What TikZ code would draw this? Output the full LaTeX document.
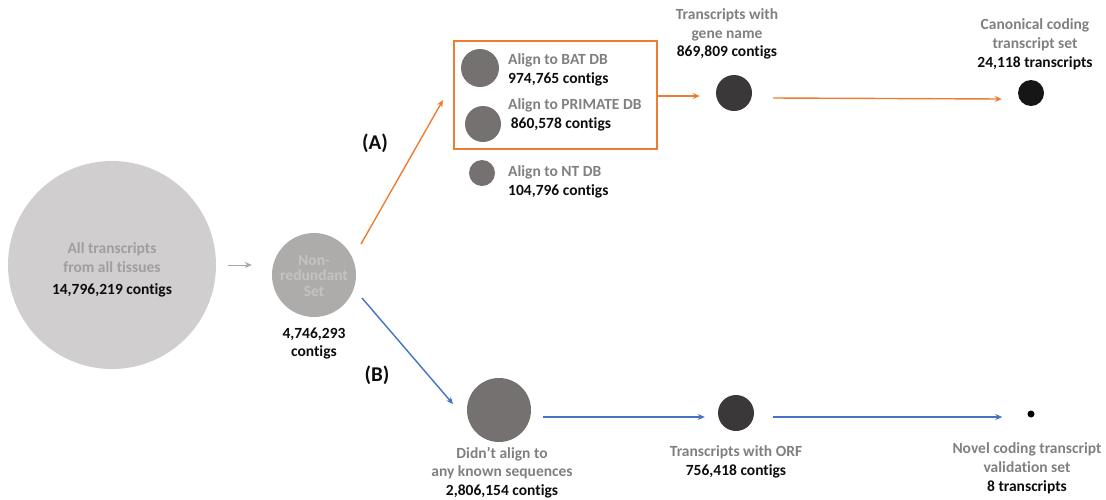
\documentclass[tikz,border=0pt]{standalone}
\usepackage{fontspec}
\setmainfont{Carlito}[Ligatures={NoCommon}]
\usetikzlibrary{arrows.meta,calc}

\definecolor{bigfill}{HTML}{D0CECE}
\definecolor{nrfill}{HTML}{AEABAB}
\definecolor{nrtext}{HTML}{C4C2C2}
\definecolor{bigtext}{HTML}{9F9F9F}
\definecolor{midfill}{HTML}{767171}
\definecolor{darkfill}{HTML}{3A3838}
\definecolor{blackfill}{HTML}{161616}
\definecolor{labgray}{HTML}{808080}
\definecolor{numtext}{HTML}{0D0D0D}
\definecolor{orangeline}{HTML}{ED7D31}
\definecolor{blueline}{HTML}{4472C4}
\definecolor{grayline}{HTML}{A6A6A6}

\tikzset{
  dot/.style={circle, inner sep=0pt, draw=none},
  txt/.style={inner sep=0pt, align=center, font=\bfseries\fontsize{15.5}{18.8}\selectfont, text=labgray},
  ltxt/.style={txt, align=left, anchor=west},
  num/.style={text=numtext},
  flow/.style={line width=1.4pt, -{Stealth[length=7pt,width=6pt]}},
  branch/.style={inner sep=0pt, font=\bfseries\fontsize{21}{24}\selectfont, text=numtext}
}

\begin{document}
\begin{tikzpicture}[x=1pt, y=-1pt]
\useasboundingbox (0,0) rectangle (1106,499);

% input pool and non-redundant set
\node[dot, fill=bigfill, minimum size=208pt] (all) at (112,265) {};
\node[txt, text=bigtext] (allt) at (112,257.5) {All transcripts\\from all tissues};
\node[txt, num] (alln) at (112,290) {14,796,219 contigs};

\node[dot, fill=nrfill, minimum size=84pt] (nr) at (314,275) {};
\node[txt, text=nrtext, font=\bfseries\fontsize{15.5}{15.5}\selectfont] (nrt) at (314,276) {Non-\\redundant\\Set};
\node[txt, num] (nrn) at (314,343.5) {4,746,293\\contigs};

% branch (A): database alignments
\node[draw=orangeline, line width=1.3pt, minimum width=203pt, minimum height=108pt, inner sep=0pt] (dbbox) at (555.5,95) {};
\node[dot, fill=midfill, minimum size=38pt] (bat) at (480,68) {};
\node[ltxt] (batt) at (508,69.5) {Align to BAT DB\\\textcolor{numtext}{974,765 contigs}};
\node[dot, fill=midfill, minimum size=36pt] (pri) at (483,124) {};
\node[ltxt] (prit) at (508,114.5) {Align to PRIMATE DB\\\textcolor{numtext}{\,860,578 contigs}};
\node[dot, fill=midfill, minimum size=26pt] (nt) at (482,173) {};
\node[ltxt] (ntt) at (508,181.5) {Align to NT DB\\\textcolor{numtext}{104,796 contigs}};

\node[dot, fill=darkfill, minimum size=36pt] (gene) at (734,93) {};
\node[txt] (genet) at (727,34) {Transcripts with\\gene name\\\textcolor{numtext}{869,809 contigs}};
\node[dot, fill=blackfill, minimum size=26pt] (canon) at (1031,93) {};
\node[txt] (canont) at (1035,44) {Canonical coding\\transcript set\\\textcolor{numtext}{24,118 transcripts}};

% branch (B): unaligned sequences
\node[dot, fill=midfill, minimum size=64pt] (unal) at (499,410) {};
\node[txt] (unalt) at (502,472.5) {Didn’t align to\\any known sequences\\\textcolor{numtext}{2,806,154 contigs}};
\node[dot, fill=darkfill, minimum size=36pt] (orf) at (736,413) {};
\node[txt] (orft) at (736,462) {Transcripts with ORF\\\textcolor{numtext}{756,418 contigs}};
\node[dot, fill=black, minimum size=7pt] (novel) at (1031,414) {};
\node[txt] (novelt) at (1027,468.5) {Novel coding transcript\\validation set\\\textcolor{numtext}{8 transcripts}};

% branch labels
\node[branch] (la) at (375,143) {(A)};
\node[branch] (lb) at (377,375) {(B)};

% connectors
\coordinate (aStart) at (361,244);
\coordinate (aEnd) at (443,100);
\coordinate (bStart) at (362,298);
\coordinate (bEnd) at (453,404);

\draw[flow, color=grayline, line width=1pt, shorten <=12pt, shorten >=20pt] (all.east) -- (all.east -| nr.west);
\draw[flow, color=orangeline] (aStart) -- (aEnd);
\draw[flow, color=blueline] (bStart) -- (bEnd);
\draw[flow, color=orangeline, shorten >=16pt] ($(dbbox.east)+(0,1)$) -- ($(dbbox.east -| gene.west)+(0,1)$);
\draw[flow, color=orangeline] ($(gene.east)+(21,5)$) -- ($(canon.west)+(-16,6)$);
\draw[flow, color=blueline] ($(unal.east)+(12,7)$) -- ($(orf.west)+(-13,4)$);
\draw[flow, color=blueline] ($(orf.east)+(19,4)$) -- ($(novel.west)+(-25,3)$);
\end{tikzpicture}
\end{document}
